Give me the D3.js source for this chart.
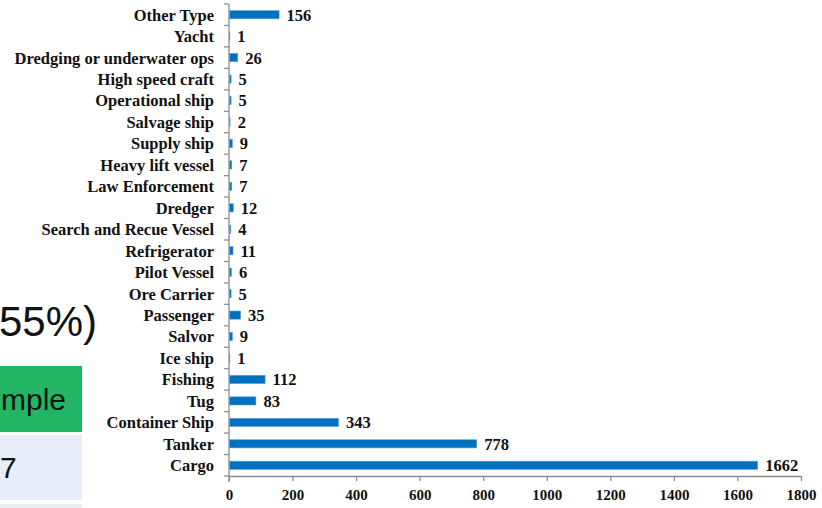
<!DOCTYPE html>
<html>
<head>
<meta charset="utf-8">
<script src="https://cdn.jsdelivr.net/npm/d3@7"></script>
<style>
  html, body { margin: 0; padding: 0; background: #ffffff; }
  svg { display: block; }
</style>
</head>
<body>
<svg id="chart" width="822" height="508"></svg>
<script>
// Vessel types, top to bottom as listed on the category axis
const categories = [
  "Other Type", "Yacht", "Dredging or underwater ops", "High speed craft",
  "Operational ship", "Salvage ship", "Supply ship", "Heavy lift vessel",
  "Law Enforcement", "Dredger", "Search and Recue Vessel", "Refrigerator",
  "Pilot Vessel", "Ore Carrier", "Passenger", "Salvor", "Ice ship",
  "Fishing", "Tug", "Container Ship", "Tanker", "Cargo"
];
// Number of vessels per type
const counts = [
  156, 1, 26, 5, 5, 2, 9, 7, 7, 12, 4, 11, 6, 5, 35, 9, 1, 112, 83, 343, 778, 1662
];
// Value axis ticks
const xTicks = [0, 200, 400, 600, 800, 1000, 1200, 1400, 1600, 1800];

const svg = d3.select("#chart");

// Slide content sitting behind the chart on the left
const sans = "Liberation Sans, Arial, sans-serif";
const slide = svg.append("g");
slide.append("text")
  .attr("x", 97).attr("y", 336)
  .attr("text-anchor", "end")
  .attr("font-family", sans)
  .attr("font-size", 42)
  .attr("fill", "#111")
  .text("55%)");
slide.append("rect").attr("x", 0).attr("y", 366).attr("width", 82).attr("height", 66).attr("fill", "#22b566");
slide.append("text")
  .attr("x", 66).attr("y", 410)
  .attr("text-anchor", "end")
  .attr("font-family", sans)
  .attr("font-size", 30)
  .attr("fill", "#111")
  .text("mple");
slide.append("rect").attr("x", 0).attr("y", 435).attr("width", 82).attr("height", 65).attr("fill", "#e8eef7");
slide.append("text")
  .attr("x", 0).attr("y", 478)
  .attr("font-family", sans)
  .attr("font-size", 30)
  .attr("fill", "#111")
  .text("7");
slide.append("rect").attr("x", 0).attr("y", 504).attr("width", 82).attr("height", 10).attr("fill", "#e8eef7");

// Chart area
const plotLeft = 229, plotRight = 801, plotTop = 4, plotBottom = 476;

const x = d3.scaleLinear().domain([0, 1800]).range([plotLeft, plotRight]);
const y = d3.scaleBand().domain(categories).range([plotTop, plotBottom]).paddingInner(0.62).paddingOuter(0.31);

const serif = "Liberation Serif, Times New Roman, serif";

// Bars
svg.append("g").selectAll("rect")
  .data(categories)
  .join("rect")
  .attr("x", x(0) + 0.5)
  .attr("y", d => y(d))
  .attr("width", (d, i) => Math.max(0, x(counts[i]) - x(0)))
  .attr("height", y.bandwidth())
  .attr("fill", "#0070c0")
  .attr("stroke", "#5b9bd5")
  .attr("stroke-width", 0.6);

// Value labels
svg.append("g").selectAll("text")
  .data(categories)
  .join("text")
  .attr("x", (d, i) => x(counts[i]) + 8)
  .attr("y", d => y(d) + y.bandwidth() / 2)
  .attr("dy", "0.36em")
  .attr("font-family", serif)
  .attr("font-weight", "bold")
  .attr("font-size", 16.5)
  .attr("fill", "#111")
  .text((d, i) => counts[i]);

// Category axis with ticks between rows
const yAxisG = svg.append("g").attr("transform", `translate(${plotLeft},0)`);
yAxisG.append("line")
  .attr("x1", 0).attr("x2", 0).attr("y1", plotTop).attr("y2", plotBottom + 6)
  .attr("stroke", "#8c8c8c").attr("stroke-width", 1.3);
const bounds = d3.range(categories.length + 1)
  .map(i => plotTop + i * (plotBottom - plotTop) / categories.length);
yAxisG.selectAll("line.tk")
  .data(bounds)
  .join("line")
  .attr("class", "tk")
  .attr("x1", -5).attr("x2", 0)
  .attr("y1", d => d).attr("y2", d => d)
  .attr("stroke", "#8c8c8c").attr("stroke-width", 1.3);
yAxisG.selectAll("text")
  .data(categories)
  .join("text")
  .attr("x", -15)
  .attr("y", d => y(d) + y.bandwidth() / 2)
  .attr("dy", "0.36em")
  .attr("text-anchor", "end")
  .attr("font-family", serif)
  .attr("font-weight", "bold")
  .attr("font-size", 16.5)
  .attr("fill", "#111")
  .text(d => d);

// Value axis
const xAxis = d3.axisBottom(x).tickValues(xTicks).tickFormat(d3.format("d"))
  .tickSize(5).tickSizeOuter(0).tickPadding(8);
const xAxisG = svg.append("g").attr("transform", `translate(0,${plotBottom})`).call(xAxis);
xAxisG.select(".domain").attr("stroke", "#8c8c8c").attr("stroke-width", 1.3);
xAxisG.selectAll(".tick line").attr("stroke", "#8c8c8c").attr("stroke-width", 1.3);
xAxisG.selectAll(".tick text")
  .attr("font-family", serif)
  .attr("font-weight", "bold")
  .attr("font-size", 15)
  .attr("fill", "#111");
</script>
</body>
</html>
